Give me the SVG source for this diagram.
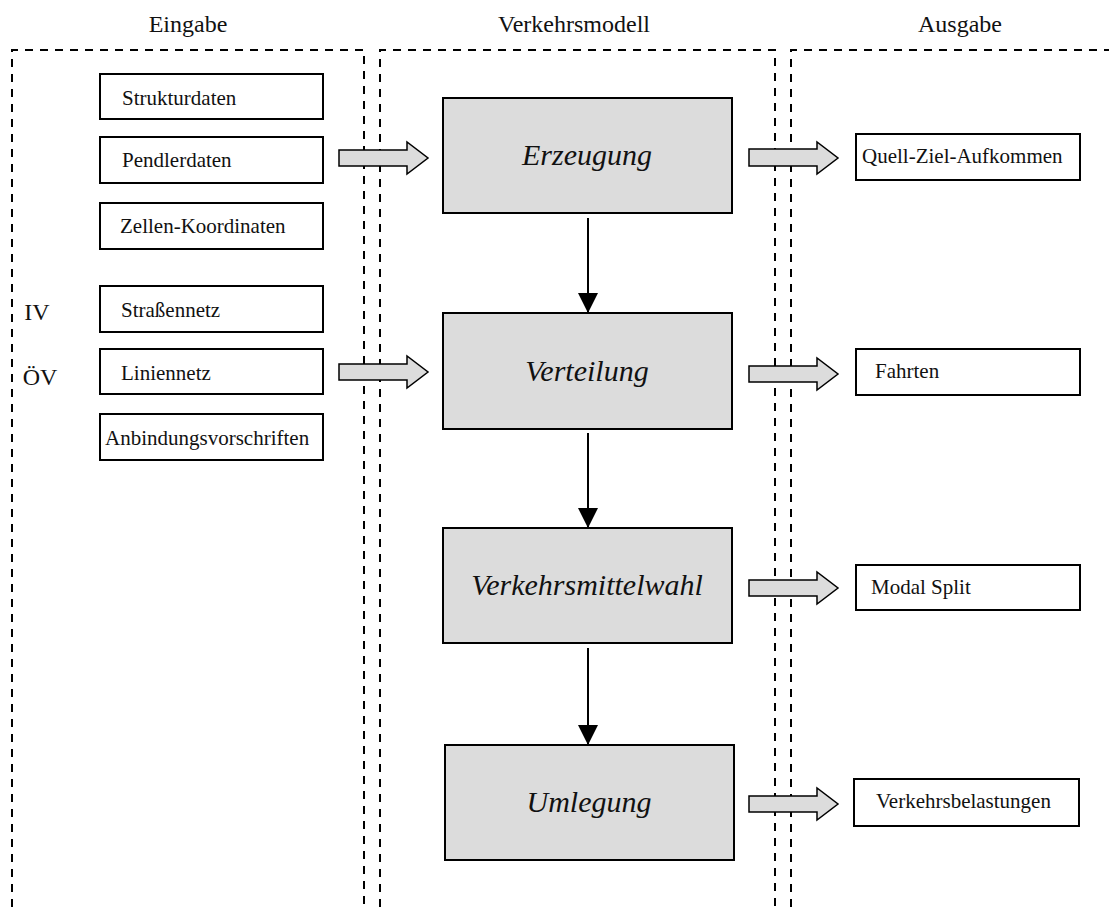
<svg xmlns="http://www.w3.org/2000/svg" width="1109" height="907" viewBox="0 0 1109 907">
<defs>
<style>
.panel{fill:none;stroke:#000;stroke-width:2;stroke-dasharray:8,7}
.box{fill:#fff;stroke:#000;stroke-width:2}
.proc{fill:#dcdcdc;stroke:#000;stroke-width:2}
.t{font-family:"Liberation Serif","Times New Roman",serif;font-size:21px;fill:#111}
.h{font-family:"Liberation Serif","Times New Roman",serif;font-size:24px;fill:#111;text-anchor:middle}
.pt{font-family:"Liberation Serif","Times New Roman",serif;font-size:30px;font-style:italic;fill:#111;text-anchor:middle}
.barrow{fill:#dcdcdc;stroke:#000;stroke-width:1.5;stroke-linejoin:miter}
.line{stroke:#000;stroke-width:2;fill:none}
</style>
<marker id="ah" viewBox="0 0 20 20" refX="20" refY="10" markerWidth="20" markerHeight="20" markerUnits="userSpaceOnUse" orient="auto">
<path d="M0,0 L20,10 L0,20 Z" fill="#000"/>
</marker>
</defs>

<g id="panels">
<path class="panel" d="M12,907 V50 H364 V907"/>
<path class="panel" d="M380,907 V50 H775 V907"/>
<path class="panel" d="M791,907 V50 H1109"/>
<text class="h" x="188" y="32">Eingabe</text>
<text class="h" x="574" y="32">Verkehrsmodell</text>
<text class="h" x="960" y="32">Ausgabe</text>
<text class="h" x="37" y="320">IV</text>
<text class="h" x="40" y="385">ÖV</text>
</g>

<g id="in-strukturdaten"><rect class="box" x="100" y="74" width="223" height="45"/><text class="t" x="122" y="105">Strukturdaten</text></g>
<g id="in-pendlerdaten"><rect class="box" x="100" y="137" width="223" height="46"/><text class="t" x="122" y="167">Pendlerdaten</text></g>
<g id="in-zellen"><rect class="box" x="100" y="203" width="223" height="46"/><text class="t" x="120" y="233">Zellen-Koordinaten</text></g>
<g id="in-strassennetz"><rect class="box" x="100" y="286" width="223" height="46"/><text class="t" x="121" y="317">Straßennetz</text></g>
<g id="in-liniennetz"><rect class="box" x="100" y="349" width="223" height="45"/><text class="t" x="121" y="380">Liniennetz</text></g>
<g id="in-anbindung"><rect class="box" x="100" y="414" width="223" height="46"/><text class="t" x="105" y="445">Anbindungsvorschriften</text></g>

<g id="p-erzeugung"><rect class="proc" x="443" y="98" width="289" height="115"/><text class="pt" x="587" y="165">Erzeugung</text></g>
<g id="p-verteilung"><rect class="proc" x="443" y="313" width="289" height="116"/><text class="pt" x="587" y="381">Verteilung</text></g>
<g id="p-vmw"><rect class="proc" x="443" y="528" width="289" height="115"/><text class="pt" x="587" y="595">Verkehrsmittelwahl</text></g>
<g id="p-umlegung"><rect class="proc" x="445" y="745" width="289" height="115"/><text class="pt" x="589" y="812">Umlegung</text></g>

<g id="out-qza"><rect class="box" x="856" y="134" width="224" height="46"/><text class="t" x="862" y="163">Quell-Ziel-Aufkommen</text></g>
<g id="out-fahrten"><rect class="box" x="856" y="349" width="224" height="46"/><text class="t" x="875" y="378">Fahrten</text></g>
<g id="out-modalsplit"><rect class="box" x="856" y="565" width="224" height="45"/><text class="t" x="871" y="594">Modal Split</text></g>
<g id="out-belastungen"><rect class="box" x="854" y="779" width="225" height="47"/><text class="t" x="876" y="808">Verkehrsbelastungen</text></g>

<g id="connectors">
<polygon class="barrow" points="339,150 407,150 407,142 428,158 407,174 407,166 339,166"/>
<polygon class="barrow" points="339,364 407,364 407,356 428,372 407,388 407,380 339,380"/>
<polygon class="barrow" points="749,149 817,149 817,142 838,158 817,174 817,166 749,166"/>
<polygon class="barrow" points="749,366 817,366 817,358 838,374 817,390 817,382 749,382"/>
<polygon class="barrow" points="749,580 817,580 817,572 838,588 817,604 817,596 749,596"/>
<polygon class="barrow" points="749,796 817,796 817,788 838,804 817,820 817,812 749,812"/>
<line class="line" x1="588" y1="218" x2="588" y2="313" marker-end="url(#ah)"/>
<line class="line" x1="588" y1="433" x2="588" y2="528" marker-end="url(#ah)"/>
<line class="line" x1="588" y1="648" x2="588" y2="745" marker-end="url(#ah)"/>
</g>
</svg>
